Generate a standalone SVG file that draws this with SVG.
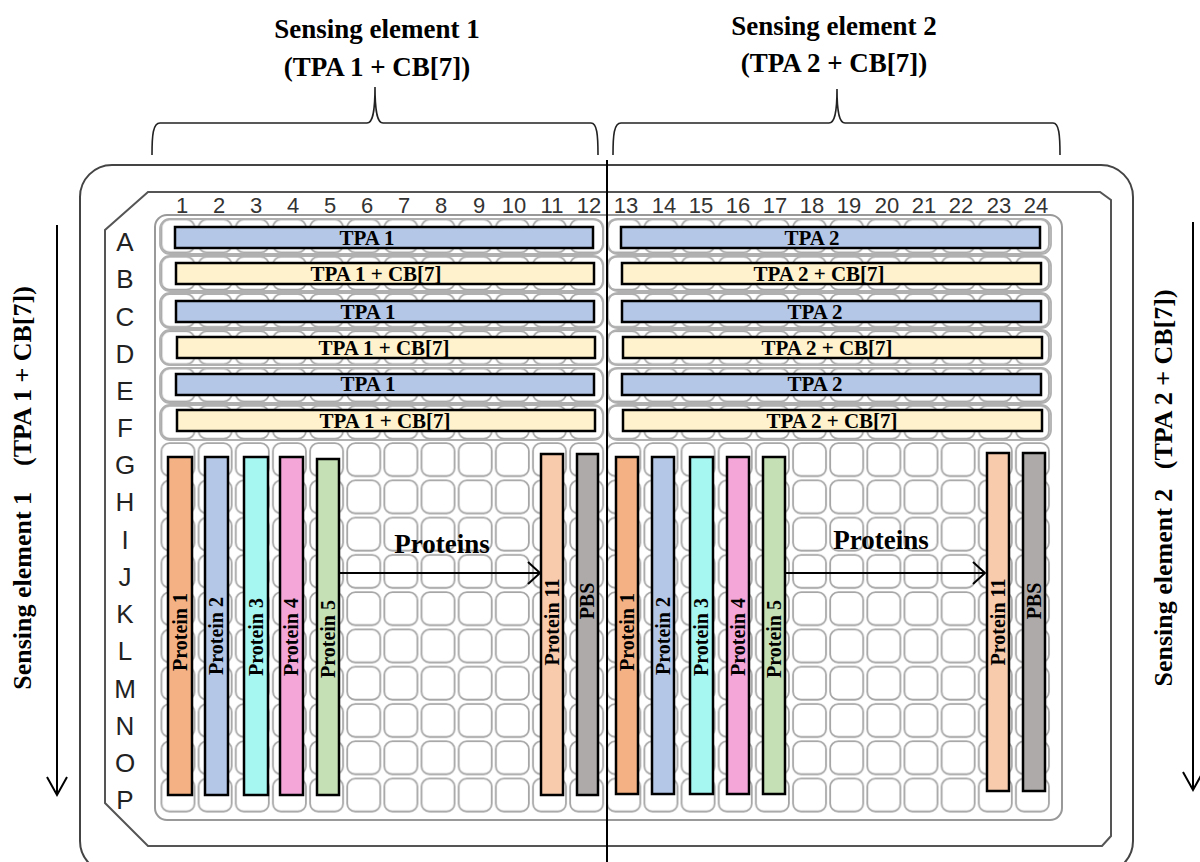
<svg xmlns="http://www.w3.org/2000/svg" width="1200" height="862" viewBox="0 0 1200 862">
<style>
.hdr{font-family:"Liberation Serif","Times New Roman",serif;font-weight:bold;font-size:27px;fill:#000;text-anchor:middle}
.side{font-family:"Liberation Serif","Times New Roman",serif;font-weight:bold;font-size:26px;fill:#000;text-anchor:middle}
.bt{font-family:"Liberation Serif","Times New Roman",serif;font-weight:bold;font-size:21px;fill:#000;text-anchor:middle}
.vt{font-family:"Liberation Serif","Times New Roman",serif;font-weight:bold;font-size:20px;fill:#000;text-anchor:middle}
.lbl{font-family:"Liberation Serif","Times New Roman",serif;font-weight:bold;font-size:27px;fill:#000;text-anchor:middle}
.col{font-family:"Liberation Sans",Arial,sans-serif;font-size:22px;fill:#333;text-anchor:middle}
.row{font-family:"Liberation Sans",Arial,sans-serif;font-size:26px;fill:#222;text-anchor:middle}
.bar{stroke:#000;stroke-width:2.5}
.cap{fill:none;stroke:#b0b0b0;stroke-width:1.8}
.ln{stroke:#000;stroke-width:2;fill:none}
.brace{stroke:#222;stroke-width:1.6;fill:none}
.blue{fill:#B4C7E7}.yel{fill:#FFF2CC}
</style>
<defs>
<pattern id="well" patternUnits="userSpaceOnUse" x="159.4" y="217.4" width="37.15" height="37.27">
<rect x="2.1" y="2.1" width="33" height="33" rx="8" fill="#fff" stroke="#a5a5a5" stroke-width="1.8"/>
</pattern>
</defs>
<rect width="1200" height="862" fill="#fff"/>

<g id="plate">
<rect x="80" y="165" width="1053" height="708" rx="32" fill="#fff" stroke="#444" stroke-width="2"/>
<path d="M148,192 L1100,192 L1111,200 L1111,836 L1102,846 L148,846 L105,803 L105,230 Z" fill="#fff" stroke="#555" stroke-width="2"/>
<rect x="155" y="215" width="907" height="605" rx="12" fill="#fff" stroke="#999" stroke-width="2"/>
<rect x="159.4" y="217.4" width="891.6" height="596.3" fill="url(#well)"/>
</g>

<g id="column-labels">
<text class="col" x="182" y="213">1</text><text class="col" x="219" y="213">2</text><text class="col" x="256" y="213">3</text><text class="col" x="293" y="213">4</text><text class="col" x="330" y="213">5</text><text class="col" x="367" y="213">6</text><text class="col" x="404" y="213">7</text><text class="col" x="441" y="213">8</text><text class="col" x="479" y="213">9</text><text class="col" x="514" y="213">10</text><text class="col" x="552" y="213">11</text><text class="col" x="589" y="213">12</text><text class="col" x="626" y="213">13</text><text class="col" x="664" y="213">14</text><text class="col" x="701" y="213">15</text><text class="col" x="738" y="213">16</text><text class="col" x="775" y="213">17</text><text class="col" x="812" y="213">18</text><text class="col" x="849" y="213">19</text><text class="col" x="887" y="213">20</text><text class="col" x="924" y="213">21</text><text class="col" x="961" y="213">22</text><text class="col" x="999" y="213">23</text><text class="col" x="1036" y="213">24</text>
</g>
<g id="row-labels">
<text class="row" x="125" y="251">A</text><text class="row" x="125" y="288">B</text><text class="row" x="125" y="326">C</text><text class="row" x="125" y="363">D</text><text class="row" x="125" y="400">E</text><text class="row" x="125" y="437">F</text><text class="row" x="125" y="474">G</text><text class="row" x="125" y="511">H</text><text class="row" x="125" y="549">I</text><text class="row" x="125" y="586">J</text><text class="row" x="125" y="623">K</text><text class="row" x="125" y="660">L</text><text class="row" x="125" y="698">M</text><text class="row" x="125" y="735">N</text><text class="row" x="125" y="772">O</text><text class="row" x="125" y="809">P</text>
</g>

<g id="row-capsules">
<rect class="cap" x="160" y="219" width="443" height="35" rx="10"/><rect class="cap" x="608" y="219" width="443" height="35" rx="10"/>
<rect class="cap" x="160" y="256" width="443" height="35" rx="10"/><rect class="cap" x="608" y="256" width="443" height="35" rx="10"/>
<rect class="cap" x="160" y="293" width="443" height="35" rx="10"/><rect class="cap" x="608" y="293" width="443" height="35" rx="10"/>
<rect class="cap" x="160" y="330" width="443" height="35" rx="10"/><rect class="cap" x="608" y="330" width="443" height="35" rx="10"/>
<rect class="cap" x="160" y="368" width="443" height="35" rx="10"/><rect class="cap" x="608" y="368" width="443" height="35" rx="10"/>
<rect class="cap" x="160" y="405" width="443" height="35" rx="10"/><rect class="cap" x="608" y="405" width="443" height="35" rx="10"/>
</g>

<g id="row-A"><rect class="bar blue" x="175" y="227" width="418" height="21"/><text class="bt" x="367" y="245">TPA 1</text><rect class="bar blue" x="621" y="227" width="419" height="21"/><text class="bt" x="812" y="245">TPA 2</text></g>
<g id="row-B"><rect class="bar yel" x="176" y="263" width="418" height="21"/><text class="bt" x="376" y="281">TPA 1 + CB[7]</text><rect class="bar yel" x="622" y="263" width="419" height="21"/><text class="bt" x="819" y="281">TPA 2 + CB[7]</text></g>
<g id="row-C"><rect class="bar blue" x="176" y="301" width="418" height="21"/><text class="bt" x="368" y="319">TPA 1</text><rect class="bar blue" x="622" y="301" width="419" height="21"/><text class="bt" x="815" y="319">TPA 2</text></g>
<g id="row-D"><rect class="bar yel" x="177" y="337" width="418" height="21"/><text class="bt" x="384" y="355">TPA 1 + CB[7]</text><rect class="bar yel" x="623" y="337" width="419" height="21"/><text class="bt" x="827" y="355">TPA 2 + CB[7]</text></g>
<g id="row-E"><rect class="bar blue" x="176" y="374" width="418" height="21"/><text class="bt" x="368" y="391">TPA 1</text><rect class="bar blue" x="622" y="374" width="419" height="21"/><text class="bt" x="815" y="391">TPA 2</text></g>
<g id="row-F"><rect class="bar yel" x="177" y="410" width="418" height="21"/><text class="bt" x="385" y="428">TPA 1 + CB[7]</text><rect class="bar yel" x="623" y="410" width="419" height="21"/><text class="bt" x="832" y="428">TPA 2 + CB[7]</text></g>

<g id="left-proteins">
<rect class="bar" fill="#F4B183" x="168" y="457" width="24" height="338"/><text class="vt" transform="translate(187,632) rotate(-90)">Protein 1</text>
<rect class="bar" fill="#B4C7E7" x="205" y="457" width="23" height="338"/><text class="vt" transform="translate(223,636) rotate(-90)">Protein 2</text>
<rect class="bar" fill="#A6F6F2" x="244" y="457" width="24" height="338"/><text class="vt" transform="translate(263,637) rotate(-90)">Protein 3</text>
<rect class="bar" fill="#F4A6D8" x="280" y="457" width="23" height="338"/><text class="vt" transform="translate(298,637) rotate(-90)">Protein 4</text>
<rect class="bar" fill="#C5E0B4" x="317" y="459" width="22" height="336"/><text class="vt" transform="translate(335,639) rotate(-90)">Protein 5</text>
<rect class="bar" fill="#F8CBAD" x="541" y="454" width="22" height="341"/><text class="vt" transform="translate(559,622) rotate(-90)">Protein 11</text>
<rect class="bar" fill="#AEAAAA" x="577" y="454" width="21" height="341"/><text class="vt" transform="translate(594,601) rotate(-90)">PBS</text>
</g>
<g id="right-proteins">
<rect class="bar" fill="#F4B183" x="616" y="457" width="22" height="337"/><text class="vt" transform="translate(634,632) rotate(-90)">Protein 1</text>
<rect class="bar" fill="#B4C7E7" x="652" y="457" width="22" height="337"/><text class="vt" transform="translate(670,636) rotate(-90)">Protein 2</text>
<rect class="bar" fill="#A6F6F2" x="690" y="457" width="23" height="337"/><text class="vt" transform="translate(708,637) rotate(-90)">Protein 3</text>
<rect class="bar" fill="#F4A6D8" x="727" y="457" width="22" height="337"/><text class="vt" transform="translate(745,637) rotate(-90)">Protein 4</text>
<rect class="bar" fill="#C5E0B4" x="763" y="457" width="22" height="337"/><text class="vt" transform="translate(781,639) rotate(-90)">Protein 5</text>
<rect class="bar" fill="#F8CBAD" x="987" y="453" width="22" height="338"/><text class="vt" transform="translate(1005,622) rotate(-90)">Protein 11</text>
<rect class="bar" fill="#AEAAAA" x="1023" y="453" width="22" height="338"/><text class="vt" transform="translate(1041,601) rotate(-90)">PBS</text>
</g>

<g id="connectors">
<line class="ln" x1="607" y1="160" x2="607" y2="862"/>
<path class="ln" d="M339,573 H540 M528,562 L540,573 L528,584"/>
<path class="ln" d="M786,573 H985 M973,562 L985,573 L973,584"/>
<path class="ln" d="M57,225 V795 M47,777 L57,795 L67,777"/>
<path class="ln" d="M1193,222 V790 M1183,772 L1193,790 L1203,772"/>
<path class="brace" d="M152,155 C152,135 153,123 160,123 L367,123 C372,123 375,115 375,87 C375,115 378,123 383,123 L591,123 C597,123 598,135 598,155"/>
<path class="brace" d="M613,155 C613,135 614,123 621,123 L829,123 C834,123 837,115 837,89 C837,115 840,123 845,123 L1053,123 C1059,123 1060,135 1060,155"/>
</g>

<g id="labels">
<text class="hdr" x="377" y="38">Sensing element 1</text>
<text class="hdr" x="377" y="76">(TPA 1 + CB[7])</text>
<text class="hdr" x="834" y="35">Sensing element 2</text>
<text class="hdr" x="834" y="72">(TPA 2 + CB[7])</text>
<text class="lbl" x="442" y="553">Proteins</text>
<text class="lbl" x="881" y="549">Proteins</text>
<text class="side" transform="translate(31,488) rotate(-90)">Sensing element 1&#160;&#160;&#160;&#160;(TPA 1 + CB[7])</text>
<text class="side" transform="translate(1172,488) rotate(-90)">Sensing element 2&#160;&#160;&#160;(TPA 2 + CB[7])</text>
</g>
</svg>
